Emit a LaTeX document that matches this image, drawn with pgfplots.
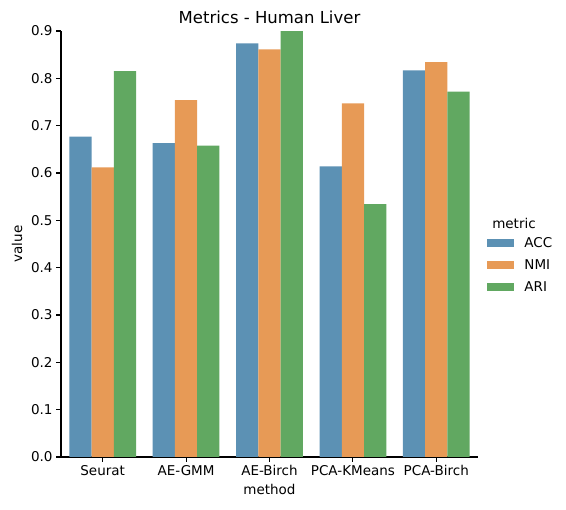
\documentclass[border=0pt]{standalone}
\usepackage{pgfplots}
\pgfplotsset{compat=1.18}
\usepackage{fontspec}
\setmainfont{DejaVu Sans}
\definecolor{cACC}{RGB}{92,145,180}
\definecolor{cNMI}{RGB}{231,154,86}
\definecolor{cARI}{RGB}{97,168,97}
\begin{document}
\begin{tikzpicture}[font=\fontsize{13.5bp}{16bp}\selectfont]
\useasboundingbox (0,0) rectangle (566bp,510bp);
\begin{axis}[
  at={(61bp,53bp)}, anchor=south west,
  scale only axis, width=417bp, height=426bp,
  xmin=-0.5, xmax=4.5, ymin=0, ymax=0.9,
  axis x line*=bottom, axis y line*=left,
  axis line style={line width=1.1bp},
  xtick={0,1,2,3,4},
  xticklabels={Seurat,AE-GMM,AE-Birch,PCA-KMeans,PCA-Birch},
  ytick={0,0.1,...,0.9},
  yticklabel style={/pgf/number format/.cd,fixed,fixed zerofill,precision=1,assume math mode=true},
  tick style={line width=1.1bp,black},
  tick align=outside, major tick length=4.9bp,
  xlabel={method}, ylabel={value},
  title={Metrics - Human Liver},
  title style={yshift=-2bp, font=\fontsize{16.5bp}{19bp}\selectfont},
  ylabel style={yshift=2bp},
  xlabel style={yshift=-2bp},
  ybar, bar width=0.2667,
  legend style={at={(1.015,0.525)}, anchor=north west, draw=none, fill=none,
    row sep=6.5bp, legend cell align=left,
    nodes={inner sep=2bp}},
  legend image code/.code={\fill[#1] (0bp,-4bp) rectangle (27bp,4bp); \path (35bp,0bp);},
]
\addplot[fill=cACC, draw=none, bar shift=-0.2667] coordinates {(0,0.677) (1,0.663) (2,0.874) (3,0.614) (4,0.817)};
\addlegendentry{ACC}
\addplot[fill=cNMI, draw=none, bar shift=0] coordinates {(0,0.612) (1,0.754) (2,0.861) (3,0.747) (4,0.834)};
\addlegendentry{NMI}
\addplot[fill=cARI, draw=none, bar shift=0.2667] coordinates {(0,0.815) (1,0.658) (2,0.900) (3,0.534) (4,0.772)};
\addlegendentry{ARI}
\end{axis}
\node at (514bp,287bp) {metric};
\end{tikzpicture}
\end{document}
